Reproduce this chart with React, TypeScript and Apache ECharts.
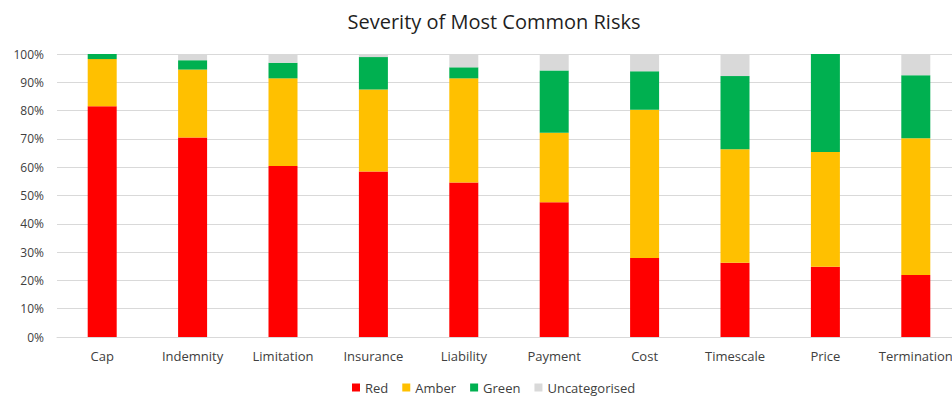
import React, { useEffect, useRef } from "react";
import * as echarts from "echarts";

// Share of each risk category by severity (percent)
const categories = [
  "Cap",
  "Indemnity",
  "Limitation",
  "Insurance",
  "Liability",
  "Payment",
  "Cost",
  "Timescale",
  "Price",
  "Termination",
];
const redValues = [81.5, 70.5, 60.4, 58.5, 54.6, 47.6, 27.9, 26.2, 24.8, 21.9];
const amberValues = [16.7, 24.0, 31.0, 29.0, 36.8, 24.6, 52.4, 40.1, 40.6, 48.3];
const greenValues = [1.8, 3.3, 5.5, 11.4, 3.9, 22.0, 13.6, 25.9, 34.6, 22.3];
const uncategorisedValues = [0, 2.2, 3.1, 1.1, 4.7, 5.8, 6.1, 7.8, 0, 7.5];
const yTicks = [0, 10, 20, 30, 40, 50, 60, 70, 80, 90, 100];

const FONT = "'Open Sans', 'Noto Sans', sans-serif";

// The plot runs a little past the visible frame on the right, so the
// chart canvas is wider than the frame and the frame clips it.
const FRAME_W = 952;
const FRAME_H = 396;
const CANVAS_W = 972;

export default function App() {
  const ref = useRef<HTMLDivElement>(null);

  useEffect(() => {
    if (!ref.current) return;
    const chart = echarts.init(ref.current, undefined, { renderer: "svg" });
    const mkSeries = (name: string, data: number[], color: string) => ({
      name,
      type: "bar",
      stack: "total",
      data,
      barWidth: 29,
      itemStyle: { color },
      emphasis: { disabled: true },
    });
    chart.setOption({
      animation: false,
      backgroundColor: "#ffffff",
      textStyle: { fontFamily: FONT },
      title: {
        text: "Severity of Most Common Risks",
        left: 489,
        top: 6,
        textAlign: "center",
        textStyle: {
          fontFamily: FONT,
          fontSize: 20,
          fontWeight: "normal",
          color: "#1f1f1f",
        },
      },
      legend: {
        top: 381,
        left: 352,
        padding: 0,
        itemWidth: 8,
        itemHeight: 8,
        itemGap: 14,
        icon: "rect",
        textStyle: { fontFamily: FONT, fontSize: 13, color: "#404040" },
        data: ["Red", "Amber", "Green", "Uncategorised"],
      },
      grid: {
        left: 57,
        top: 54,
        width: 904,
        height: 283,
        containLabel: false,
      },
      xAxis: {
        type: "category",
        data: categories,
        axisLine: { show: true, lineStyle: { color: "#d9d9d9", width: 1 } },
        axisTick: { show: false },
        axisLabel: {
          fontFamily: FONT,
          fontSize: 13,
          color: "#404040",
          margin: 12,
          interval: 0,
        },
      },
      yAxis: {
        type: "value",
        min: 0,
        max: 100,
        interval: 10,
        axisLine: { show: false },
        axisTick: { show: false },
        splitLine: { lineStyle: { color: "#d9d9d9", width: 1 } },
        axisLabel: {
          fontFamily: FONT,
          fontSize: 12,
          color: "#404040",
          margin: 13,
          formatter: (v: number) => (yTicks.includes(v) ? `${v}%` : ""),
        },
      },
      series: [
        mkSeries("Red", redValues, "#ff0000"),
        mkSeries("Amber", amberValues, "#ffc000"),
        mkSeries("Green", greenValues, "#00b050"),
        mkSeries("Uncategorised", uncategorisedValues, "#d9d9d9"),
      ],
    });
    return () => chart.dispose();
  }, []);

  return (
    <div
      style={{
        position: "fixed",
        left: 0,
        top: 0,
        width: FRAME_W,
        height: FRAME_H,
        overflow: "hidden",
        background: "#ffffff",
      }}
    >
      <div ref={ref} style={{ width: CANVAS_W, height: FRAME_H }} />
    </div>
  );
}
